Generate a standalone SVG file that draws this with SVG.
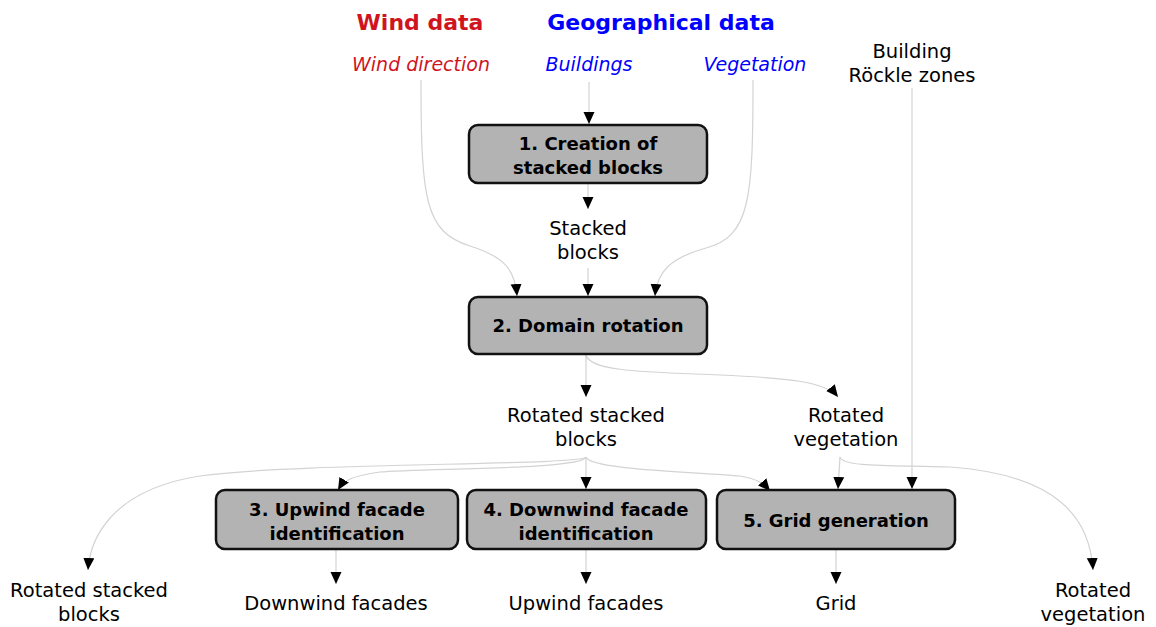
<svg xmlns="http://www.w3.org/2000/svg" width="1156" height="627" viewBox="0 0 1156 627">
<style>
text{font-family:"DejaVu Sans","Open Sans",sans-serif;font-size:19.5px;text-anchor:middle;fill:#000}
.title{font-size:22px;font-weight:bold}
.red{fill:#d0141e}
.blue{fill:#0000ff}
.it{font-style:italic;font-size:19px}
.box{fill:#b3b3b3;stroke:#111;stroke-width:2.5}
.bt{font-weight:bold;font-size:18px}
.e{fill:none;stroke:#d3d3d3;stroke-width:1.2}
</style>
<defs>
<marker id="ah" markerUnits="userSpaceOnUse" markerWidth="14" markerHeight="12" refX="12" refY="5.5" orient="auto">
<path d="M0,0 L12,5.5 L0,11 Z" fill="#000"/>
</marker>
</defs>
<rect width="1156" height="627" fill="#fff"/>
<g id="labels">
<text class="title red" x="420" y="30">Wind data</text>
<text class="title blue" x="661" y="30">Geographical data</text>
<text class="it red" x="421" y="71">Wind direction</text>
<text class="it blue" x="589" y="71">Buildings</text>
<text class="it blue" x="755" y="71">Vegetation</text>
<text x="912" y="58">Building</text>
<text x="912" y="82">Röckle zones</text>
<text x="588" y="235">Stacked</text>
<text x="588" y="259">blocks</text>
<text x="586" y="422">Rotated stacked</text>
<text x="586" y="446">blocks</text>
<text x="846" y="422">Rotated</text>
<text x="846" y="446">vegetation</text>
<text x="89" y="597">Rotated stacked</text>
<text x="89" y="621">blocks</text>
<text x="1093" y="597">Rotated</text>
<text x="1093" y="621">vegetation</text>
<text x="336" y="610">Downwind facades</text>
<text x="586" y="610">Upwind facades</text>
<text x="836" y="610">Grid</text>
</g>
<g id="connectors">
<path class="e" d="M589,82 L589,124" marker-end="url(#ah)"/>
<path class="e" d="M588,184 L588,209" marker-end="url(#ah)"/>
<path class="e" d="M421,80 C421,200 425,232 470,246 C505,257 515,270 517,296" marker-end="url(#ah)"/>
<path class="e" d="M588,268 L588,296" marker-end="url(#ah)"/>
<path class="e" d="M753,80 C753,200 750,236 706,248 C670,258 657,272 655,296" marker-end="url(#ah)"/>
<path class="e" d="M586,355 L586,397" marker-end="url(#ah)"/>
<path class="e" d="M586,355 C590,372 650,372 720,375 C790,378 826,382 838,397" marker-end="url(#ah)"/>
<path class="e" d="M586,457 C582,470 420,468 380,472 C352,476 344,480 338,490" marker-end="url(#ah)"/>
<path class="e" d="M586,457 L586,489" marker-end="url(#ah)"/>
<path class="e" d="M586,457 C590,470 700,472 740,476 C758,479 764,484 770,491" marker-end="url(#ah)"/>
<path class="e" d="M586,457 C580,466 300,462 200,476 C110,490 90,540 88,570" marker-end="url(#ah)"/>
<path class="e" d="M840,457 L838,489" marker-end="url(#ah)"/>
<path class="e" d="M840,457 C842,468 900,465 950,467 C1060,475 1090,520 1093,570" marker-end="url(#ah)"/>
<path class="e" d="M912,88 L912,489" marker-end="url(#ah)"/>
<path class="e" d="M336,550 L336,584" marker-end="url(#ah)"/>
<path class="e" d="M586,550 L586,584" marker-end="url(#ah)"/>
<path class="e" d="M836,550 L836,584" marker-end="url(#ah)"/>
</g>
<g id="n1">
<rect class="box" x="469" y="125" width="238" height="58" rx="9"/>
<text class="bt" x="588" y="150">1. Creation of</text>
<text class="bt" x="588" y="174">stacked blocks</text>
</g>
<g id="n2">
<rect class="box" x="469" y="297" width="238" height="57" rx="9"/>
<text class="bt" x="588" y="332">2. Domain rotation</text>
</g>
<g id="n3">
<rect class="box" x="216" y="490" width="242" height="59" rx="9"/>
<text class="bt" x="337" y="516">3. Upwind facade</text>
<text class="bt" x="337" y="540">identification</text>
</g>
<g id="n4">
<rect class="box" x="467" y="490" width="239" height="59" rx="9"/>
<text class="bt" x="586" y="516">4. Downwind facade</text>
<text class="bt" x="586" y="540">identification</text>
</g>
<g id="n5">
<rect class="box" x="717" y="490" width="238" height="59" rx="9"/>
<text class="bt" x="836" y="527">5. Grid generation</text>
</g>
</svg>
